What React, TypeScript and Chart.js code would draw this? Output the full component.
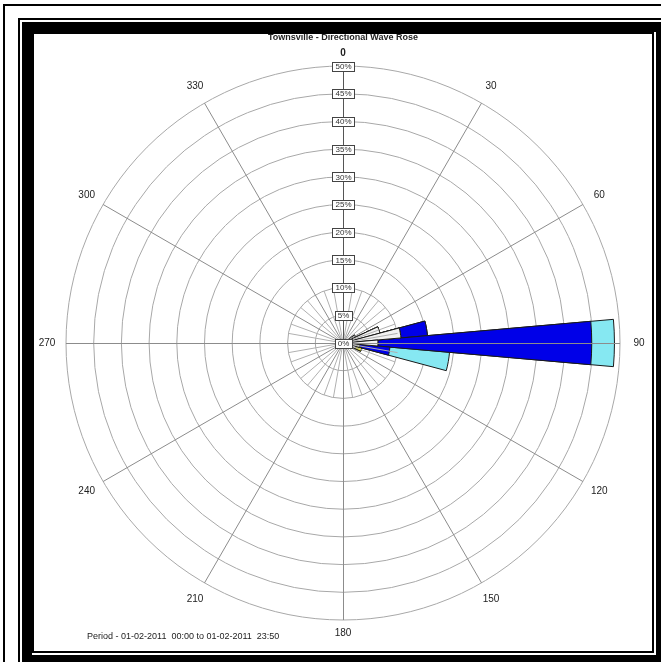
import React, { useEffect, useRef } from 'react';
import { Chart, registerables } from 'chart.js';

Chart.register(...registerables);

// Direction bins (degrees, 10° wide, centred on the value)
const directions = [0, 10, 20, 30, 40, 50, 60, 70, 80, 90, 100, 110, 120, 130, 140, 150, 160, 170,
  180, 190, 200, 210, 220, 230, 240, 250, 260, 270, 280, 290, 300, 310, 320, 330, 340, 350];

// Percentage of occurrence per class, per direction bin (stacked inner -> outer)
const classWhite = [0, 0, 0, 0, 0, 0, 2.5, 6.9, 10.5, 6.3, 3.0, 2.5, 0, 0, 0, 0, 0, 0,
  0, 0, 0, 0, 0, 0, 0, 0, 0, 0, 0, 0, 0, 0, 0, 0, 0, 0];
const classYellow = [0, 0, 0, 0, 0, 0, 0, 0, 0, 0, 0, 1.0, 0, 0, 0, 0, 0, 0,
  0, 0, 0, 0, 0, 0, 0, 0, 0, 0, 0, 0, 0, 0, 0, 0, 0, 0];
const classBlue = [0, 0, 0, 0, 0, 0, 0, 0, 4.8, 38.6, 5.5, 0, 0, 0, 0, 0, 0, 0,
  0, 0, 0, 0, 0, 0, 0, 0, 0, 0, 0, 0, 0, 0, 0, 0, 0, 0];
const classCyan = [0, 0, 0, 0, 0, 0, 0, 0, 0, 4.1, 10.8, 0, 0, 0, 0, 0, 0, 0,
  0, 0, 0, 0, 0, 0, 0, 0, 0, 0, 0, 0, 0, 0, 0, 0, 0, 0];

const classColors = ['#f2f2f2', '#ffff00', '#0000e8', '#86e8f2'];

const directionLabels = ['0', '30', '60', '90', '120', '150', '180', '210', '240', '270', '300', '330'];
const percentLabels = ['0%', '5%', '10%', '15%', '20%', '25%', '30%', '35%', '40%', '45%', '50%'];

const titleText = 'Townsville - Directional Wave Rose';
const periodText = 'Period - 01-02-2011  00:00 to 01-02-2011  23:50';

const FONT = '"Liberation Sans", Arial, Helvetica, sans-serif';

const overlayPlugin = {
  id: 'roseOverlay',
  afterDatasetsDraw(chart: any) {
    const s = chart.scales.r;
    const ctx = chart.ctx as CanvasRenderingContext2D;
    const cx = s.xCenter;
    const cy = s.yCenter;
    const R = s.drawingArea;
    ctx.save();
    // minor spokes near the centre
    ctx.strokeStyle = '#b0b0b0';
    ctx.lineWidth = 1;
    const rMinor = s.getDistanceFromCenterForValue(10);
    directions.forEach((d) => {
      if (d % 30 === 0) return;
      const a = (d * Math.PI) / 180;
      ctx.beginPath();
      ctx.moveTo(cx, cy);
      ctx.lineTo(cx + Math.sin(a) * rMinor, cy - Math.cos(a) * rMinor);
      ctx.stroke();
    });
    // major spokes
    directionLabels.forEach((lbl) => {
      const d = Number(lbl);
      const a = (d * Math.PI) / 180;
      ctx.strokeStyle = d === 0 ? '#555555' : '#8c8c8c';
      ctx.beginPath();
      const px = d % 90 === 0 ? 0.5 : 0;
      ctx.moveTo(cx + (d % 180 === 0 ? px : 0), cy + (d % 180 !== 0 && d % 90 === 0 ? px : 0));
      ctx.lineTo(cx + Math.sin(a) * R + (d % 180 === 0 ? px : 0), cy - Math.cos(a) * R + (d % 180 !== 0 && d % 90 === 0 ? px : 0));
      ctx.stroke();
    });
    // percent tick boxes along the 0° spoke
    ctx.font = `8px ${FONT}`;
    ctx.textAlign = 'center';
    ctx.textBaseline = 'middle';
    s.ticks.forEach((t: any, i: number) => {
      const r = s.getDistanceFromCenterForValue(t.value);
      const y = cy - r;
      const text = percentLabels[i] ?? `${t.value}%`;
      const w = Math.ceil(ctx.measureText(text).width) + 5;
      const h = 9;
      const bx = Math.round(cx - w / 2) + 0.5;
      const by = Math.round(y - h / 2) + 0.5;
      ctx.fillStyle = '#ffffff';
      ctx.fillRect(bx, by, w, h);
      ctx.strokeStyle = '#444444';
      ctx.strokeRect(bx, by, w, h);
      ctx.fillStyle = '#333333';
      ctx.fillText(text, cx + 0.5, y + 0.5);
    });
    ctx.restore();
  },
  afterDraw(chart: any) {
    const s = chart.scales.r;
    const ctx = chart.ctx as CanvasRenderingContext2D;
    const cx = s.xCenter;
    const cy = s.yCenter;
    const R = s.drawingArea;
    ctx.save();
    ctx.textAlign = 'center';
    ctx.textBaseline = 'middle';
    ctx.fillStyle = '#222222';
    directionLabels.forEach((lbl) => {
      const d = Number(lbl);
      const a = (d * Math.PI) / 180;
      const rl = R + (d % 180 === 0 ? 13 : 19);
      ctx.font = d === 0 ? `bold 10px ${FONT}` : `10px ${FONT}`;
      ctx.fillText(lbl, cx + Math.sin(a) * rl, cy - Math.cos(a) * rl);
    });
    ctx.font = `bold 9px ${FONT}`;
    ctx.fillStyle = '#222222';
    ctx.fillText(titleText, cx, cy - R - 28);
    ctx.font = `9px ${FONT}`;
    ctx.textAlign = 'left';
    ctx.fillText(periodText, 87, cy + R + 17);
    ctx.restore();
  },
};

export default function App() {
  const ref = useRef<HTMLCanvasElement>(null);
  useEffect(() => {
    document.body.style.margin = '0';
    const classes = [classWhite, classYellow, classBlue, classCyan];
    const cumulative = classes.map((_, ci) =>
      directions.map((__, di) => classes.slice(0, ci + 1).reduce((acc, c) => acc + c[di], 0))
    );
    const datasets = cumulative.map((vals, ci) => ({
      data: vals,
      backgroundColor: classColors[ci],
      borderColor: '#1a1a1a',
      borderWidth: (c: any) => (c.raw > 0 ? 1 : 0),
    }));
    const chart = new Chart(ref.current as HTMLCanvasElement, {
      type: 'polarArea',
      data: { labels: directions.map(String), datasets },
      options: {
        responsive: false,
        animation: false,
        layout: { padding: { left: 66, top: 66, right: 41, bottom: 42 } },
        plugins: { legend: { display: false }, tooltip: { enabled: false }, title: { display: false } },
        scales: {
          r: {
            type: 'radialLinear',
            min: 0,
            max: 50,
            startAngle: -5,
            ticks: { display: false, stepSize: 5 },
            grid: { color: '#a8a8a8', lineWidth: 1, circular: true },
            angleLines: { display: false },
            pointLabels: { display: false },
          },
        },
      } as any,
      plugins: [overlayPlugin],
    });
    return () => chart.destroy();
  }, []);

  const line = (style: React.CSSProperties): React.CSSProperties => ({
    position: 'absolute',
    boxSizing: 'border-box',
    pointerEvents: 'none',
    ...style,
  });

  return (
    <div style={{ position: 'fixed', left: 0, top: 0, width: 661, height: 662, overflow: 'hidden', background: '#ffffff' }}>
      <canvas ref={ref} width={661} height={662} style={{ position: 'absolute', left: 0, top: 0, width: 661, height: 662 }} />
      <div style={line({ left: 3, top: 4, width: 800, height: 800, border: '2px solid #000' })} />
      <div style={line({ left: 18, top: 18, width: 800, height: 800, border: '2px solid #000' })} />
      <div style={line({ left: 22, top: 22, width: 644, height: 643, border: '10px solid #000' })} />
      <div style={line({ left: 32, top: 32, width: 622, height: 621, border: '2px solid #000' })} />
    </div>
  );
}
